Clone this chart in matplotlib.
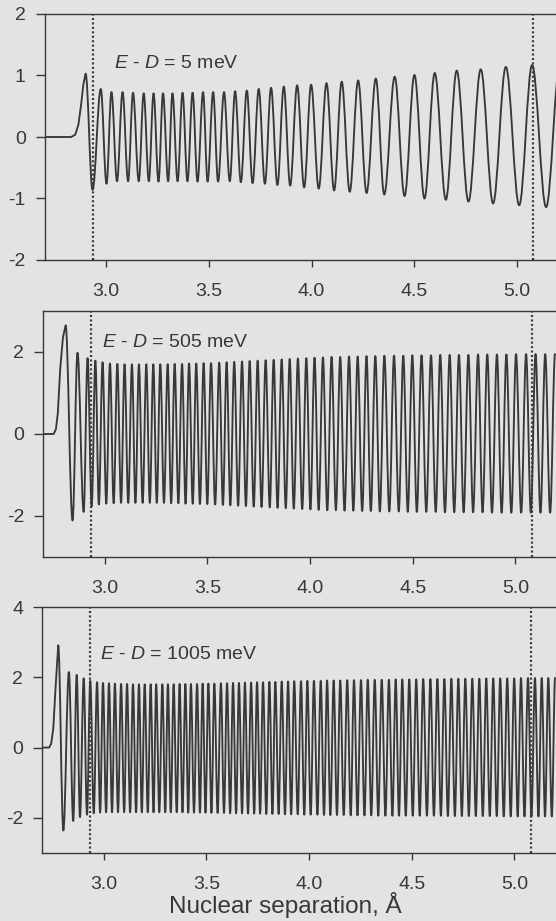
import matplotlib
matplotlib.use("Agg")
import matplotlib.pyplot as plt
from matplotlib.path import Path
from matplotlib.patches import PathPatch

# ---------------- data ----------------
x_ticks = [3.0, 3.5, 4.0, 4.5, 5.0]
x_tick_labels = ["3.0", "3.5", "4.0", "4.5", "5.0"]
marker_lines = [2.935, 5.08]            # dotted vertical lines (Å)
energy_labels = ["5 meV", "505 meV", "1005 meV"]

# Panel 1: E - D = 5 meV
p1_lead_x = [2.70, 2.830, 2.850, 2.865, 2.878, 2.889]
p1_lead_y = [0.0, 0.0, 0.04, 0.20, 0.52, 0.85]
p1_max_x = [2.900, 2.974, 3.026, 3.080, 3.131, 3.183, 3.231, 3.277, 3.323, 3.372,
            3.421, 3.472, 3.521, 3.574, 3.628, 3.685, 3.743, 3.803, 3.865, 3.930,
            3.998, 4.073, 4.147, 4.227, 4.313, 4.405, 4.501, 4.600, 4.707, 4.824,
            4.946, 5.074, 5.21]
p1_max_y = [1.03, 0.78, 0.73, 0.73, 0.72, 0.71, 0.71, 0.71, 0.71, 0.72,
            0.72, 0.73, 0.73, 0.73, 0.745, 0.756, 0.78, 0.80, 0.82, 0.84,
            0.85, 0.875, 0.90, 0.92, 0.95, 0.98, 1.01, 1.04, 1.08, 1.10,
            1.14, 1.17, 1.20]
p1_min_x = [2.934, 3.002, 3.053, 3.107, 3.159, 3.208, 3.255, 3.302, 3.348, 3.396,
            3.445, 3.494, 3.545, 3.602, 3.656, 3.713, 3.773, 3.834, 3.896, 3.964,
            4.035, 4.110, 4.186, 4.268, 4.354, 4.453, 4.550, 4.654, 4.764, 4.884,
            5.011, 5.142]
p1_min_y = [-0.86, -0.76, -0.72, -0.72, -0.72, -0.72, -0.725, -0.72, -0.72, -0.72,
            -0.725, -0.725, -0.725, -0.72, -0.735, -0.75, -0.76, -0.78, -0.79, -0.82,
            -0.84, -0.87, -0.89, -0.91, -0.935, -0.96, -1.00, -1.02, -1.05, -1.08,
            -1.11, -1.14]

# Panel 2: E - D = 505 meV
p2_lead_x = [2.70, 2.752, 2.763, 2.772, 2.784, 2.797]
p2_lead_y = [0.0, 0.0, 0.12, 0.50, 1.60, 2.35]
p2_max_x = [2.810, 2.868, 2.917, 2.955, 2.990, 3.026, 3.062, 3.097, 3.133, 3.167,
            3.203, 3.237, 3.271, 3.307, 3.341, 3.377, 3.411, 3.446, 3.482, 3.518,
            3.558, 3.594, 3.631, 3.669, 3.706, 3.745, 3.784, 3.823, 3.862, 3.901,
            3.941, 3.982, 4.022, 4.063, 4.105, 4.147, 4.190, 4.232, 4.275, 4.318,
            4.362, 4.409, 4.454, 4.498, 4.543, 4.589, 4.634, 4.680, 4.725, 4.771,
            4.818, 4.863, 4.910, 4.956, 5.003, 5.052, 5.098, 5.145, 5.193]
p2_max_y = [2.65, 1.98, 1.85, 1.79, 1.75, 1.72, 1.71, 1.70, 1.70, 1.70,
            1.70, 1.70, 1.70, 1.70, 1.71, 1.71, 1.72, 1.72, 1.73, 1.73,
            1.74, 1.75, 1.76, 1.77, 1.78, 1.79, 1.80, 1.81, 1.82, 1.83,
            1.84, 1.85, 1.86, 1.87, 1.88, 1.88, 1.89, 1.89, 1.90, 1.90,
            1.91, 1.91, 1.91, 1.92, 1.92, 1.92, 1.93, 1.93, 1.93, 1.93,
            1.94, 1.94, 1.94, 1.94, 1.95, 1.95, 1.95, 1.95, 1.95]
p2_min_x = [2.844, 2.898, 2.937, 2.972, 3.008, 3.044, 3.080, 3.115, 3.150, 3.185,
            3.220, 3.254, 3.289, 3.324, 3.359, 3.394, 3.429, 3.464, 3.500, 3.538,
            3.576, 3.612, 3.650, 3.688, 3.726, 3.764, 3.804, 3.842, 3.882, 3.921,
            3.962, 4.002, 4.042, 4.084, 4.126, 4.168, 4.211, 4.254, 4.296, 4.340,
            4.386, 4.432, 4.476, 4.520, 4.566, 4.612, 4.657, 4.702, 4.748, 4.794,
            4.840, 4.886, 4.933, 4.980, 5.028, 5.075, 5.122, 5.169]
p2_min_y = [-2.11, -1.90, -1.76, -1.72, -1.70, -1.69, -1.68, -1.68, -1.68, -1.68,
            -1.68, -1.68, -1.68, -1.69, -1.69, -1.70, -1.70, -1.71, -1.71, -1.72,
            -1.73, -1.74, -1.75, -1.76, -1.77, -1.78, -1.79, -1.80, -1.81, -1.82,
            -1.83, -1.84, -1.85, -1.86, -1.86, -1.87, -1.87, -1.88, -1.88, -1.89,
            -1.89, -1.89, -1.90, -1.90, -1.90, -1.90, -1.91, -1.91, -1.91, -1.91,
            -1.91, -1.92, -1.92, -1.92, -1.92, -1.92, -1.92, -1.92]

# Panel 3: E - D = 1005 meV
p3_lead_x = [2.70, 2.735, 2.745, 2.755, 2.766]
p3_lead_y = [0.0, 0.0, 0.12, 0.55, 1.70]
p3_max_x = [2.779, 2.831, 2.869, 2.903, 2.935, 2.968, 2.997, 3.026, 3.055, 3.085,
            3.114, 3.143, 3.172, 3.200, 3.229, 3.256, 3.286, 3.313, 3.341, 3.370,
            3.398, 3.425, 3.455, 3.482, 3.510, 3.539, 3.571, 3.601, 3.630, 3.659,
            3.688, 3.718, 3.747, 3.776, 3.807, 3.836, 3.867, 3.898, 3.928, 3.961,
            3.992, 4.024, 4.057, 4.088, 4.120, 4.152, 4.186, 4.219, 4.253, 4.286,
            4.320, 4.354, 4.389, 4.422, 4.454, 4.488, 4.522, 4.556, 4.591, 4.625,
            4.659, 4.693, 4.727, 4.761, 4.795, 4.829, 4.863, 4.897, 4.931, 4.965,
            4.999, 5.032, 5.066, 5.100, 5.133, 5.165, 5.198]
p3_max_y = [2.91, 2.15, 2.07, 1.97, 1.90, 1.86, 1.84, 1.83, 1.82, 1.81,
            1.81, 1.80, 1.80, 1.80, 1.80, 1.80, 1.80, 1.80, 1.80, 1.81,
            1.81, 1.81, 1.81, 1.82, 1.82, 1.82, 1.83, 1.83, 1.84, 1.84,
            1.85, 1.85, 1.86, 1.86, 1.87, 1.87, 1.88, 1.88, 1.89, 1.89,
            1.90, 1.90, 1.90, 1.91, 1.91, 1.91, 1.92, 1.92, 1.92, 1.93,
            1.93, 1.93, 1.93, 1.94, 1.94, 1.94, 1.94, 1.95, 1.95, 1.95,
            1.95, 1.96, 1.96, 1.96, 1.96, 1.96, 1.97, 1.97, 1.97, 1.97,
            1.97, 1.98, 1.98, 1.98, 1.98, 1.98, 1.98]
p3_min_x = [2.804, 2.852, 2.885, 2.919, 2.952, 2.983, 3.012, 3.041, 3.070, 3.100,
            3.129, 3.158, 3.186, 3.215, 3.243, 3.271, 3.300, 3.327, 3.356, 3.384,
            3.412, 3.440, 3.469, 3.496, 3.525, 3.555, 3.586, 3.616, 3.645, 3.674,
            3.703, 3.733, 3.762, 3.792, 3.822, 3.852, 3.883, 3.913, 3.945, 3.977,
            4.008, 4.041, 4.073, 4.104, 4.136, 4.169, 4.203, 4.236, 4.270, 4.303,
            4.337, 4.372, 4.406, 4.438, 4.471, 4.505, 4.539, 4.574, 4.608, 4.642,
            4.676, 4.710, 4.744, 4.778, 4.812, 4.846, 4.880, 4.914, 4.948, 4.982,
            5.016, 5.049, 5.083, 5.117, 5.149, 5.182]
p3_min_y = [-2.36, -2.09, -1.98, -1.91, -1.87, -1.85, -1.84, -1.84, -1.84, -1.84,
            -1.84, -1.84, -1.84, -1.84, -1.84, -1.84, -1.84, -1.84, -1.84, -1.84,
            -1.85, -1.85, -1.85, -1.85, -1.86, -1.86, -1.86, -1.87, -1.87, -1.87,
            -1.88, -1.88, -1.88, -1.89, -1.89, -1.89, -1.90, -1.90, -1.90, -1.91,
            -1.91, -1.91, -1.92, -1.92, -1.92, -1.92, -1.93, -1.93, -1.93, -1.93,
            -1.94, -1.94, -1.94, -1.94, -1.94, -1.94, -1.94, -1.94, -1.94, -1.94,
            -1.95, -1.95, -1.95, -1.95, -1.95, -1.95, -1.95, -1.95,
            -1.96, -1.96, -1.96, -1.96, -1.96, -1.96, -1.96, -1.96]

# ---------------- style ----------------
plt.rcParams['font.family'] = ['Liberation Sans', 'DejaVu Sans']
plt.rcParams['mathtext.fontset'] = 'custom'
plt.rcParams['mathtext.rm'] = 'Liberation Sans'
plt.rcParams['mathtext.it'] = 'Liberation Sans:italic'
plt.rcParams['axes.unicode_minus'] = False

INK = '#383838'
BG = '#e3e3e5'
W_PX, H_PX = 556, 921
PX_PER_A = 205.4
XMIN, XMAX = 2.70, 5.45

fig = plt.figure(figsize=(W_PX / 100, H_PX / 100), dpi=100, facecolor=BG)


def wave_path(lead_x, lead_y, max_x, max_y, min_x, min_y, k=0.3634):
    """Smooth curve through the read extrema (horizontal tangents at each extremum)."""
    ext = sorted(list(zip(max_x, max_y)) + list(zip(min_x, min_y)))
    verts = [(lead_x[0], lead_y[0])]
    codes = [Path.MOVETO]
    for x, y in zip(lead_x[1:], lead_y[1:]):
        verts.append((x, y))
        codes.append(Path.LINETO)
    verts.append(ext[0])
    codes.append(Path.LINETO)
    for (xa, ya), (xb, yb) in zip(ext[:-1], ext[1:]):
        dx = xb - xa
        verts += [(xa + k * dx, ya), (xb - k * dx, yb), (xb, yb)]
        codes += [Path.CURVE4] * 3
    return Path(verts, codes)


panels = [
    dict(left=44.5, top=14, ylim=(-2, 2), yticks=[-2, -1, 0, 1, 2],
         lead=(p1_lead_x, p1_lead_y), mx=(p1_max_x, p1_max_y), mn=(p1_min_x, p1_min_y),
         label=energy_labels[0], lab_xy=(3.038, 1.20)),
    dict(left=43.0, top=311, ylim=(-3, 3), yticks=[-2, 0, 2],
         lead=(p2_lead_x, p2_lead_y), mx=(p2_max_x, p2_max_y), mn=(p2_min_x, p2_min_y),
         label=energy_labels[1], lab_xy=(2.987, 2.24)),
    dict(left=42.0, top=607, ylim=(-3, 4), yticks=[-2, 0, 2, 4],
         lead=(p3_lead_x, p3_lead_y), mx=(p3_max_x, p3_max_y), mn=(p3_min_x, p3_min_y),
         label=energy_labels[2], lab_xy=(2.982, 2.64)),
]

AX_H_PX = 246
for i, p in enumerate(panels):
    width_px = (XMAX - XMIN) * PX_PER_A
    ax = fig.add_axes([p['left'] / W_PX, (H_PX - p['top'] - AX_H_PX) / H_PX,
                       width_px / W_PX, AX_H_PX / H_PX])
    ax.set_facecolor(BG)
    ax.set_xlim(XMIN, XMAX)
    ax.set_ylim(*p['ylim'])

    path = wave_path(p['lead'][0], p['lead'][1], p['mx'][0], p['mx'][1],
                     p['mn'][0], p['mn'][1])
    ax.add_patch(PathPatch(path, facecolor='none', edgecolor=INK, lw=1.35,
                           joinstyle='round', capstyle='round', zorder=3))

    for xv in marker_lines:
        ax.axvline(xv, color=INK, lw=1.6, linestyle=(0, (0.9, 1.1)), zorder=2)

    ax.text(p['lab_xy'][0], p['lab_xy'][1], r'$E$ - $D$ = ' + p['label'],
            fontsize=14, color=INK, va='center', ha='left', zorder=4)

    ax.set_xticks(x_ticks)
    ax.set_xticklabels(x_tick_labels)
    ax.set_yticks(p['yticks'])
    ax.set_yticklabels([str(v) for v in p['yticks']])
    ax.tick_params(axis='x', direction='out', length=4.8, width=1.0, color=INK,
                   labelsize=14, labelcolor=INK, pad=12)
    ax.tick_params(axis='y', direction='out', length=6.5, width=1.0, color=INK,
                   labelsize=14, labelcolor=INK, pad=7)
    for side in ['left', 'bottom', 'top']:
        ax.spines[side].set_color(INK)
        ax.spines[side].set_linewidth(1.0)
    ax.spines['right'].set_visible(False)

fig.text(285.5 / W_PX, 8 / H_PX, 'Nuclear separation, Å', fontsize=17.5,
         color=INK, ha='center', va='baseline')

fig.savefig('out.png', dpi=100, facecolor=BG)
